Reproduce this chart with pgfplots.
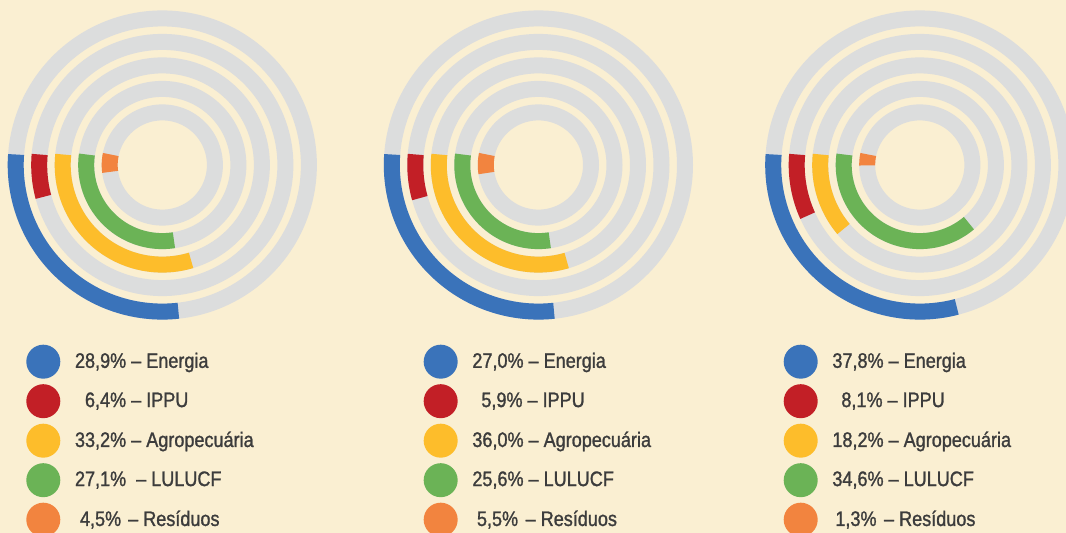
\documentclass[border=0pt]{standalone}
\usepackage{pgfplots}
\pgfplotsset{compat=1.18}
\usepackage{fontspec}
\setmainfont{Liberation Sans}[FakeStretch=0.86, FakeBold=1.2]
\definecolor{bg}{HTML}{FAEFD2}
\definecolor{ring}{HTML}{DCDDDD}
\definecolor{cEn}{HTML}{3A73BA}
\definecolor{cIP}{HTML}{C21F26}
\definecolor{cAg}{HTML}{FDBD2B}
\definecolor{cLU}{HTML}{6BB356}
\definecolor{cRe}{HTML}{F2843F}
\definecolor{txt}{HTML}{3C3C3C}
% ring radii (centre of stroke): 146.6, 123.1, 99.6, 76.1, 52.6
\newcommand{\grayring}[1]{\addplot[ring, line width=16pt, domain=0:362, samples=181, forget plot] ({#1*cos(x)},{#1*sin(x)});}
% colour, radius, start angle, end angle
\newcommand{\ringarc}[4]{\addplot[#1, line width=16pt, domain=#3:#4, samples=70] ({#2*cos(x)},{#2*sin(x)});}
\newcommand{\allgray}{\grayring{146.6}\grayring{123.1}\grayring{99.6}\grayring{76.1}\grayring{52.6}}
\pgfplotsset{ringchart/.style={scale only axis, width=340pt, height=340pt,
  xmin=-170, xmax=170, ymin=-170, ymax=170, hide axis, clip=false,
  legend cell align=left,
  legend image code/.code={\fill[##1,draw=none] (17pt,-0.7pt) circle (17pt);},
  legend style={draw=none, fill=none, inner sep=0pt, outer sep=0pt, anchor=north west,
    font=\fontsize{21}{24}\selectfont, text=txt, row sep=5.5pt, column sep=14.7pt,
    nodes={inner sep=0pt}}}}
\begin{document}
\begin{tikzpicture}
\useasboundingbox (0,0) rectangle (1066pt,533pt);
\clip (0,0) rectangle (1066pt,533pt);
\fill[bg] (0,0) rectangle (1066pt,533pt);
% ---------------- chart 1 ----------------
\begin{axis}[ringchart, at={(162.3pt,368pt)}, anchor=center,
  legend style={at={(0.1,-0.0285)}}]
\allgray
\ringarc{cEn}{146.6}{175.9}{276.3}\addlegendentry{28,9\% – Energia}
\ringarc{cIP}{123.1}{175.1}{195.0}\addlegendentry{\hspace{10pt}6,4\% – IPPU}
\ringarc{cAg}{99.6}{173.95}{286.8}\addlegendentry{33,2\% – Agropecuária}
\ringarc{cLU}{76.1}{172.1}{278.8}\addlegendentry{27,1\%\hspace{5pt} – LULUCF}
\ringarc{cRe}{52.6}{168.5}{187.5}\addlegendentry{\hspace{5pt}4,5\%\hspace{2pt} – Resíduos}
\end{axis}
% ---------------- chart 2 ----------------
\begin{axis}[ringchart, at={(538.4pt,368pt)}, anchor=center,
  legend style={at={(0.1626,-0.0285)}}]
\allgray
\ringarc{cEn}{146.6}{175.9}{276.1}\addlegendentry{27,0\% – Energia}
\ringarc{cIP}{123.1}{175.1}{195.6}\addlegendentry{\hspace{9pt}5,9\% – IPPU}
\ringarc{cAg}{99.6}{173.95}{286.5}\addlegendentry{36,0\% – Agropecuária}
\ringarc{cLU}{76.1}{172.1}{278.6}\addlegendentry{25,6\% – LULUCF}
\ringarc{cRe}{52.6}{168.5}{188.8}\addlegendentry{\hspace{4.6pt}5,5\%\hspace{2.5pt} – Resíduos}
\end{axis}
% ---------------- chart 3 ----------------
\begin{axis}[ringchart, at={(919.8pt,368pt)}, anchor=center,
  legend style={at={(0.0997,-0.0285)}}]
\allgray
\ringarc{cEn}{146.6}{175.9}{284.6}\addlegendentry{37,8\% – Energia}
\ringarc{cIP}{123.1}{175.1}{204.3}\addlegendentry{\hspace{9pt}8,1\% – IPPU}
\ringarc{cAg}{99.6}{173.95}{220.0}\addlegendentry{18,2\% – Agropecuária}
\ringarc{cLU}{76.1}{172.1}{310.2}\addlegendentry{34,6\% – LULUCF}
\ringarc{cRe}{52.6}{168.5}{180.5}\addlegendentry{\hspace{3pt}1,3\%\hspace{2.5pt} – Resíduos}
\end{axis}
\end{tikzpicture}
\end{document}
